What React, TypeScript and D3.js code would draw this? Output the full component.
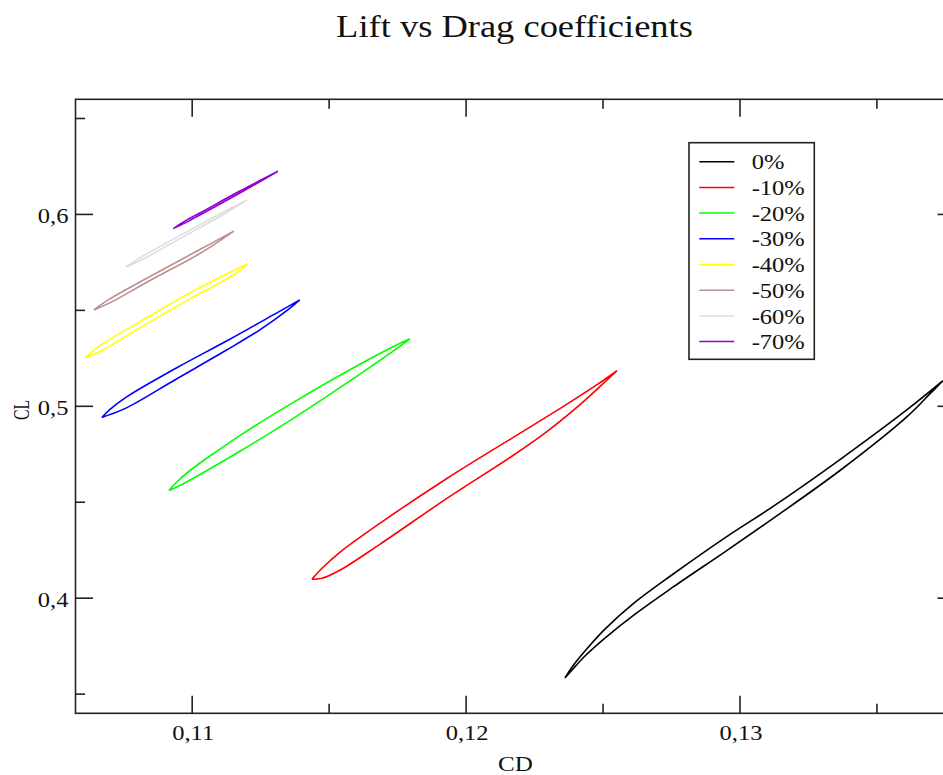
import React from "react";
import * as d3 from "d3";

// Hysteresis loops of lift coefficient (CL) against drag coefficient (CD).
// Each loop is stored as an upper branch (low tip -> high tip) and the
// interior points of the lower branch (high tip -> low tip).
type Pt = [number, number];

const seriesNames = ["0%", "-10%", "-20%", "-30%", "-40%", "-50%", "-60%", "-70%"];
const seriesColors = ["#000000", "#ff0000", "#00ff00", "#0000ff", "#ffff00", "#bc8f8f", "#dcdcdc", "#9400d3"];

const upper0: Pt[] = [
  [0.12361, 0.35841], [0.12387, 0.36413], [0.12434, 0.37245], [0.12507, 0.38388],
  [0.12617, 0.39792], [0.12755, 0.41248], [0.12953, 0.43223], [0.13121, 0.44783],
  [0.13365, 0.47226], [0.1361, 0.49826], [0.13741, 0.51334],
];
const lower0: Pt[] = [
  [0.13694, 0.50658], [0.1361, 0.49462], [0.13365, 0.46654], [0.13121, 0.44159],
  [0.12953, 0.42495], [0.12755, 0.40572], [0.12617, 0.39168], [0.12507, 0.3792],
  [0.12434, 0.36985], [0.12387, 0.36257],
];

const upper10: Pt[] = [
  [0.11437, 0.40988], [0.11474, 0.4156], [0.11539, 0.42391], [0.11685, 0.43899],
  [0.1193, 0.46239], [0.12171, 0.4837], [0.12354, 0.49982], [0.12478, 0.51126],
  [0.12551, 0.51853],
];
const lower10: Pt[] = [
  [0.125, 0.51178], [0.12416, 0.50086], [0.12295, 0.48682], [0.12171, 0.47434],
  [0.1193, 0.45199], [0.11685, 0.42807], [0.11539, 0.41455], [0.11474, 0.4104],
];

const upper20: Pt[] = [
  [0.10915, 0.45615], [0.1094, 0.46005], [0.10992, 0.46654], [0.11083, 0.4759],
  [0.11185, 0.48578], [0.11368, 0.5019], [0.1155, 0.51697], [0.11733, 0.53101],
  [0.11795, 0.53517],
];
const lower20: Pt[] = [
  [0.1174, 0.52945], [0.1155, 0.51074], [0.11368, 0.49358], [0.11185, 0.47746],
  [0.11003, 0.46239], [0.10948, 0.45823],
];

const upper30: Pt[] = [
  [0.1067, 0.4941], [0.10699, 0.49826], [0.10762, 0.50502], [0.10944, 0.52009],
  [0.11127, 0.53413], [0.11309, 0.54869], [0.11393, 0.55545],
];
const lower30: Pt[] = [
  [0.11349, 0.55025], [0.11247, 0.53985], [0.11127, 0.52945], [0.10944, 0.51437],
  [0.10762, 0.4993], [0.10699, 0.49566],
];

const upper40: Pt[] = [
  [0.10608, 0.52529], [0.10663, 0.53153], [0.10809, 0.54401], [0.10992, 0.55909],
  [0.11156, 0.57104], [0.11203, 0.57416],
];
const lower40: Pt[] = [
  [0.11156, 0.56896], [0.10992, 0.55597], [0.10809, 0.54089], [0.10663, 0.52841],
];

const upper50: Pt[] = [
  [0.10641, 0.55025], [0.10699, 0.55597], [0.10846, 0.56766], [0.11028, 0.5817],
  [0.11152, 0.59132],
];
const lower50: Pt[] = [
  [0.11028, 0.57962], [0.10846, 0.56558], [0.10699, 0.55389],
];

const upper60: Pt[] = [
  [0.10758, 0.5726], [0.10809, 0.57738], [0.10955, 0.58893], [0.11101, 0.60026],
  [0.112, 0.60743],
];
const lower60: Pt[] = [
  [0.11101, 0.59891], [0.10955, 0.58737], [0.10809, 0.57582],
];

const upper70: Pt[] = [
  [0.10931, 0.59262], [0.10973, 0.59652], [0.11028, 0.60073], [0.11174, 0.61217],
  [0.11313, 0.62251],
];
const lower70: Pt[] = [
  [0.11174, 0.61113], [0.11028, 0.59969], [0.10973, 0.59548],
];

const uppers: Pt[][] = [upper0, upper10, upper20, upper30, upper40, upper50, upper60, upper70];
const lowers: Pt[][] = [lower0, lower10, lower20, lower30, lower40, lower50, lower60, lower70];

const xDomain: [number, number] = [0.10574, 0.13785];
const yDomain: [number, number] = [0.34, 0.66];
const xMajor = [0.11, 0.12, 0.13];
const xMinor = [0.115, 0.125, 0.135];
const yMajor = [0.4, 0.5, 0.6];
const yMinor = [0.35, 0.45, 0.55, 0.65];

const W = 943;
const H = 775;
const left = 75.5;
const right = 955;
const top = 99.3;
const bottom = 713.3;
const SX = 1.14; // horizontal glyph stretch
const FONT = "'Liberation Serif', 'Times New Roman', serif";

const fmt = (v: number) => d3.format("")(+v.toFixed(2)).replace(".", ",");

function Label(props: { x: number; y: number; size: number; anchor?: string; children: React.ReactNode }) {
  const { x, y, size, anchor = "start", children } = props;
  return (
    <text
      transform={`translate(${x},${y}) scale(${SX},1)`}
      fontSize={size}
      fontFamily={FONT}
      textAnchor={anchor}
      fill="#111"
    >
      {children}
    </text>
  );
}

export default function App() {
  const x = d3.scaleLinear().domain(xDomain).range([left, right]);
  const y = d3.scaleLinear().domain(yDomain).range([bottom, top]);
  const branch = d3
    .line<Pt>()
    .x((d) => x(d[0]))
    .y((d) => y(d[1]))
    .curve(d3.curveCatmullRom.alpha(0.5));

  const loopPath = (up: Pt[], low: Pt[]) => {
    const back: Pt[] = [up[up.length - 1], ...low, up[0]];
    return (branch(up) ?? "") + (branch(back) ?? "");
  };

  const majorLen = 17.5;
  const minorLen = 9.5;
  const axisColor = "#222";

  const legX = 689;
  const legY = 142.7;
  const legW = 125.3;
  const legH = 216.6;
  const rowY0 = 161.7;
  const rowStep = 25.7;

  return (
    <svg
      width={W}
      height={H}
      style={{ position: "absolute", left: 0, top: 0, background: "#fff" }}
    >
      <rect x={0} y={0} width={W} height={H} fill="#fff" />
      <defs>
        <clipPath id="plot-area">
          <rect x={left} y={top} width={right - left} height={bottom - top} />
        </clipPath>
      </defs>

      <Label x={514.5} y={37} size={32} anchor="middle">
        Lift vs Drag coefficients
      </Label>

      <g clipPath="url(#plot-area)">
        {uppers.map((up, i) => (
          <path
            key={seriesNames[i]}
            d={loopPath(up, lowers[i])}
            fill="none"
            stroke={seriesColors[i]}
            strokeWidth={1.6}
            strokeLinejoin="round"
          />
        ))}
      </g>

      {/* frame */}
      <rect
        x={left}
        y={top}
        width={right - left}
        height={bottom - top}
        fill="none"
        stroke={axisColor}
        strokeWidth={1.6}
      />

      {/* x ticks, bottom and top */}
      {xMajor.map((v) => (
        <g key={"xm" + v}>
          <line x1={x(v)} x2={x(v)} y1={bottom} y2={bottom - majorLen} stroke={axisColor} strokeWidth={1.6} />
          <line x1={x(v)} x2={x(v)} y1={top} y2={top + majorLen} stroke={axisColor} strokeWidth={1.6} />
          <Label x={x(v) + 1} y={740} size={21.5} anchor="middle">
            {fmt(v)}
          </Label>
        </g>
      ))}
      {xMinor.map((v) => (
        <g key={"xn" + v}>
          <line x1={x(v)} x2={x(v)} y1={bottom} y2={bottom - minorLen} stroke={axisColor} strokeWidth={1.6} />
          <line x1={x(v)} x2={x(v)} y1={top} y2={top + minorLen} stroke={axisColor} strokeWidth={1.6} />
        </g>
      ))}

      {/* y ticks, left and right */}
      {yMajor.map((v) => (
        <g key={"ym" + v}>
          <line x1={left} x2={left + majorLen} y1={y(v)} y2={y(v)} stroke={axisColor} strokeWidth={1.6} />
          <line x1={right} x2={right - majorLen} y1={y(v)} y2={y(v)} stroke={axisColor} strokeWidth={1.6} />
          <Label x={68.5} y={y(v) + 9} size={21.5} anchor="end">
            {fmt(v)}
          </Label>
        </g>
      ))}
      {yMinor.map((v) => (
        <g key={"yn" + v}>
          <line x1={left} x2={left + minorLen} y1={y(v)} y2={y(v)} stroke={axisColor} strokeWidth={1.6} />
          <line x1={right} x2={right - minorLen} y1={y(v)} y2={y(v)} stroke={axisColor} strokeWidth={1.6} />
        </g>
      ))}

      {/* axis titles */}
      <Label x={515.5} y={771} size={22} anchor="middle">
        CD
      </Label>
      <text
        transform={`translate(29,410) rotate(-90) scale(0.75,1.14)`}
        fontSize={21}
        fontFamily={FONT}
        textAnchor="middle"
        fill="#111"
      >
        CL
      </text>

      {/* legend */}
      <rect x={legX} y={legY} width={legW} height={legH} fill="#fff" stroke={axisColor} strokeWidth={1.6} />
      {seriesNames.map((name, i) => {
        const ry = rowY0 + i * rowStep;
        return (
          <g key={"leg" + name}>
            <line x1={699.3} x2={734.3} y1={ry} y2={ry} stroke={seriesColors[i]} strokeWidth={1.5} />
            <Label x={751.7} y={ry + 7.6} size={21.5}>
              {name}
            </Label>
          </g>
        );
      })}
    </svg>
  );
}
